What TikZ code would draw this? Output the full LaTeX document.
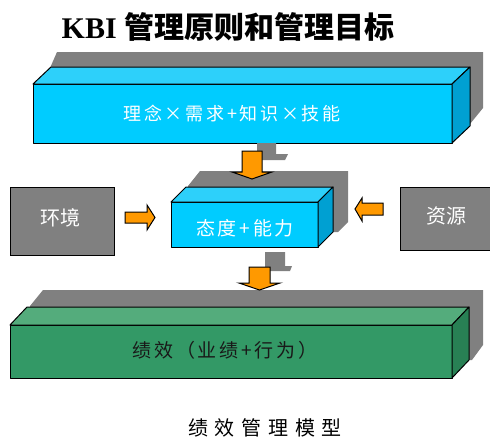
\documentclass[tikz,border=0pt]{standalone}
\usepackage{fontspec}
\setmainfont{Liberation Serif}
\newfontfamily\cjk{Noto Sans CJK SC}
\newfontfamily\cjkls[LetterSpace=15]{Noto Sans CJK SC}
\newfontfamily\capfont[LetterSpace=34]{Noto Sans CJK SC}
\definecolor{bfront}{RGB}{0,204,255}
\definecolor{btop}{RGB}{45,208,250}
\definecolor{bside}{RGB}{0,160,210}
\definecolor{gfront}{RGB}{51,153,102}
\definecolor{gtop}{RGB}{84,172,124}
\definecolor{gside}{RGB}{40,128,84}
\definecolor{shad}{RGB}{128,128,128}
\definecolor{org}{RGB}{255,153,0}
\definecolor{darktxt}{RGB}{25,25,25}
\tikzset{
  edge/.style={draw=black,line width=1pt,line join=round},
  shadowfill/.style={fill=shad},
  arrowshape/.style={fill=org,draw=black,line width=1pt,line join=miter},
  graybox/.style={fill=shad,draw=black,line width=1pt},
  boxtext/.style={font=\cjkls\fontsize{18}{20}\selectfont,text=white,inner sep=0pt},
}
% cuboid: x1 y1 x2 y2 dx dy front top side
\newcommand\mycuboid[9]{%
  \fill[#7,edge] (#1,#2) rectangle (#3,#4);
  \fill[#8,edge] (#1,#2) -- ++(#5,#6) -- ({#3+#5},{#2+#6}) -- (#3,#2) -- cycle;
  \fill[#9,edge] (#3,#2) -- ++(#5,#6) -- ({#3+#5},{#4+#6}) -- (#3,#4) -- cycle;
}
\begin{document}
\begin{tikzpicture}[x=1pt,y=-1pt]
\useasboundingbox (0,0) rectangle (490,439);
\clip (0,0) rectangle (490,439);
\fill[white] (0,0) rectangle (490,439);

% title
\node[inner sep=0pt,font=\fontsize{30}{32}\selectfont\bfseries] (title) at (228,27) {KBI {\cjk 管理原则和管理目标}};

% top box
\fill[shadowfill] (50,68) -- (57,52) -- (483,52) -- (483,108) -- (470,124) -- (50,124) -- cycle;
\mycuboid{33}{84}{452}{143}{18}{-17}{bfront}{btop}{bside}
\node[boxtext] (top) at (232,114) {理念×需求+知识×技能};

% arrow top -> middle
\fill[shadowfill] (257,143) -- (276,143) -- (276,154) -- (288,154) -- (285,160) -- (257,160) -- cycle;

% middle box
\fill[shadowfill] (188,186) -- (200,171) -- (348,171) -- (348,222) -- (338,232) -- (190,232) -- cycle;
\mycuboid{171}{202}{318}{247}{15}{-15}{bfront}{btop}{bside}
\node[boxtext,font=\cjkls\fontsize{19}{21}\selectfont] (mid) at (245,228) {态度+能力};

\draw[arrowshape] (242,151) -- (262,151) -- (262,172) -- (272,172) -- (252,179) -- (232,172) -- (242,172) -- cycle;

% side boxes
\draw[graybox] (10,187) rectangle (114,255);
\node[boxtext,font=\cjk\fontsize{20}{22}\selectfont] (env) at (60,218) {环境};
\draw[graybox] (400,187) rectangle (496,250);
\node[boxtext,font=\cjk\fontsize{20}{22}\selectfont] (res) at (446,216) {资源};

% side arrows
\draw[arrowshape] (125,212) -- (147,212) -- (147,205) -- (155,217.5) -- (147,230) -- (147,223) -- (125,223) -- cycle;
\draw[arrowshape] (383,203) -- (362,203) -- (362,198) -- (355,209) -- (362,221) -- (362,215) -- (383,215) -- cycle;

% arrow middle -> bottom
\fill[shadowfill] (265,252) -- (285,252) -- (285,266) -- (292,266) -- (290,271) -- (265,271) -- cycle;

% bottom box
\fill[shadowfill] (30,306) -- (43,290) -- (483,290) -- (483,345) -- (472,360) -- (30,360) -- cycle;
\mycuboid{10}{325}{452}{378}{17}{-18}{gfront}{gtop}{gside}
\node[boxtext,text=darktxt,font=\cjkls\fontsize{19}{21}\selectfont] (perf) at (225,350) {绩效（业绩+行为）};

\draw[arrowshape] (249,267) -- (270,267) -- (270,283) -- (280,283) -- (259.5,290) -- (239,283) -- (249,283) -- cycle;

% caption
\node[inner sep=0pt,font=\capfont\fontsize{20}{22}\selectfont] (cap) at (265,428) {绩效管理模型};
\end{tikzpicture}
\end{document}
